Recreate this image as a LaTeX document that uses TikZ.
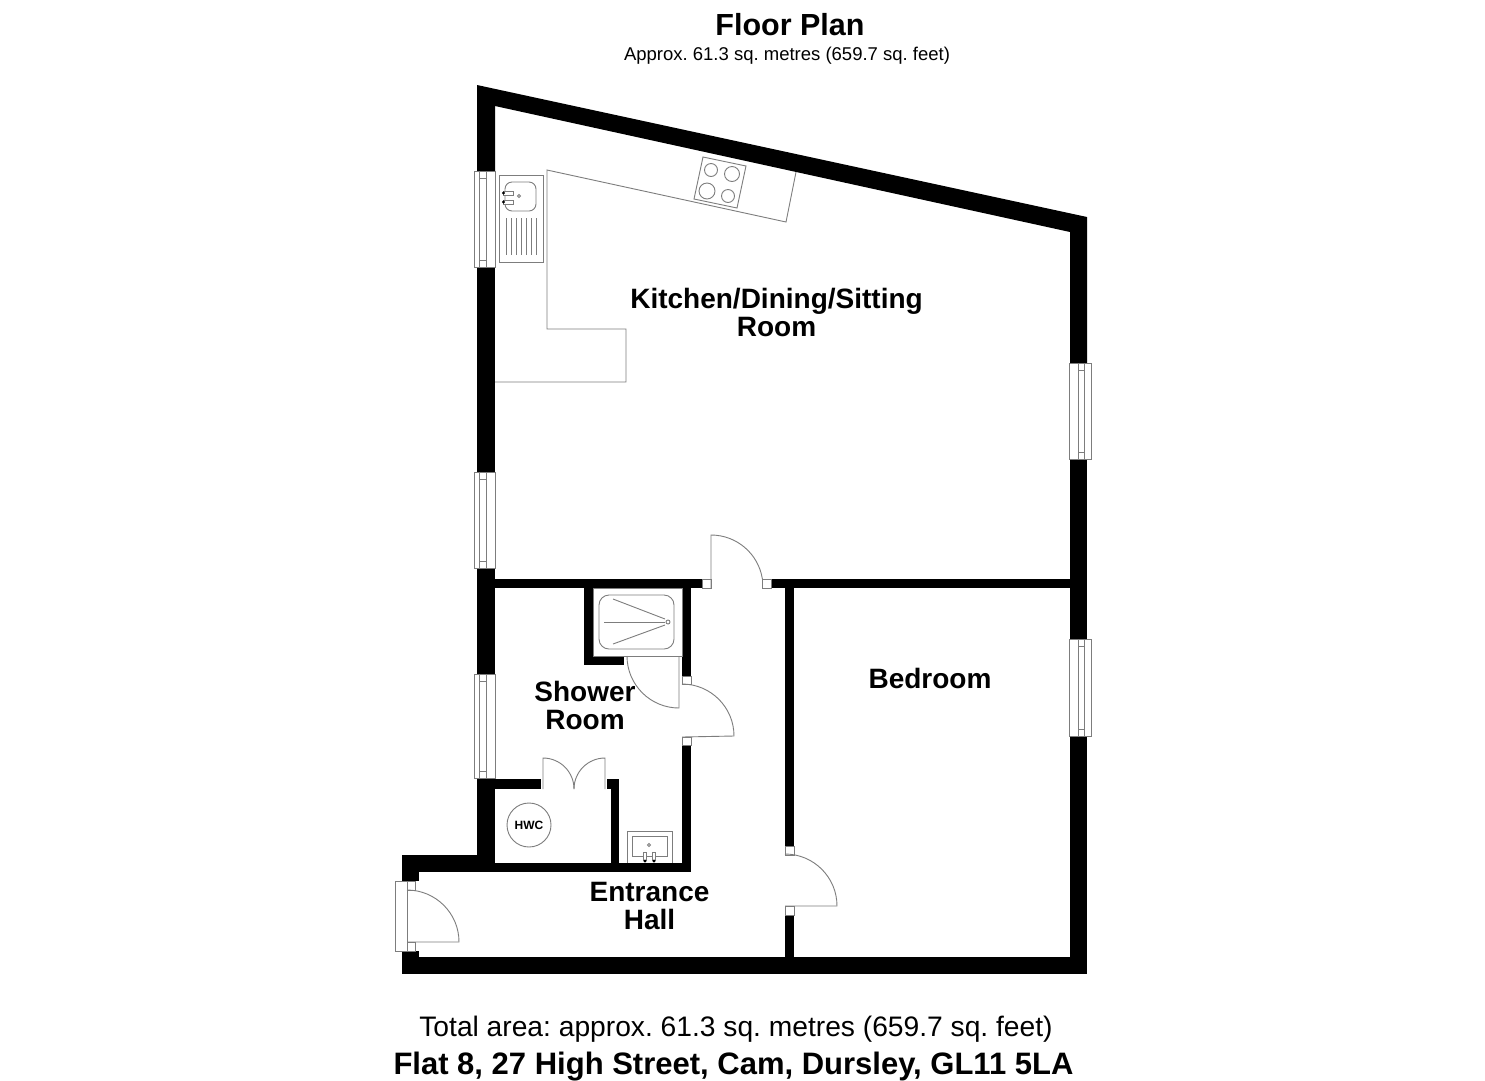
\documentclass[tikz,border=0pt]{standalone}
\usepackage{fontspec}
\setmainfont{Liberation Sans}
\frenchspacing
\usetikzlibrary{positioning}
\definecolor{fittinggrey}{RGB}{125,125,125}
\tikzset{
    wall/.style={fill=black, draw=none},
    fitting/.style={draw=fittinggrey, line width=0.9pt, fill=none},
    windowframe/.style={draw=fittinggrey, line width=0.9pt, fill=white},
    roomlabel/.style={font=\fontsize{28}{28}\selectfont\bfseries, align=center, inner sep=0pt},
}
\begin{document}
\begin{tikzpicture}[x=1pt,y=-1pt]
    \useasboundingbox (0,0) rectangle (1485,1080);
    \fill[white] (0,0) rectangle (1485,1080);
    % Outer walls
    \fill[wall] (477,85) -- (1087,217) -- (1087,363) -- (1070,363) -- (1070,232) -- (495,106) -- (495,171) -- (477,171) -- cycle;
    \foreach \xa/\ya/\xb/\yb in {477/267/495/472, 477/568/495/674, 477/778/495/863, 1070/459/1087/639, 1070/736/1087/974,
        402/957/1087/974, 402/855/495/872, 402/855/419/881, 402/951/419/957} {
        \fill[wall] (\xa,\ya) rectangle (\xb,\yb);
    }
    % Inner walls
    \foreach \xa/\ya/\xb/\yb in {495/579/702/588, 771/579/1070/588, 785/588/794/846, 785/915/794/957,
        584/588/593/665, 584/656/624/665, 682/588/691/676, 682/745/691/872, 495/863/691/872,
        495/779/541/789, 607/779/619/789, 611/789/619/863} {
        \fill[wall] (\xa,\ya) rectangle (\xb,\yb);
    }
    % Windows
    \foreach \ya/\yb in {171/267, 472/568, 674/778} {
        \draw[windowframe] (474,\ya) rectangle (495,\yb);
        \draw[fitting] (479,\ya) -- (479,\yb) (486,\ya) -- (486,\yb);
        \draw[fitting] (479,\ya+7) -- (486,\ya+7) (479,\yb-7) -- (486,\yb-7);
    }
    \foreach \ya/\yb in {363/459, 639/736} {
        \draw[windowframe] (1069,\ya) rectangle (1091,\yb);
        \draw[fitting] (1078,\ya) -- (1078,\yb) (1084,\ya) -- (1084,\yb);
        \draw[fitting] (1078,\ya+7) -- (1084,\ya+7) (1078,\yb-7) -- (1084,\yb-7);
    }
    % Door jambs
    \foreach \xa/\ya/\xb/\yb in {702/579/711/588, 762/579/771/588, 785/846/794/855, 785/906/794/915,
        682/676/691/684, 682/737/691/745, 407/881/415/890, 407/942/415/951} {
        \draw[fitting] (\xa,\ya) rectangle (\xb,\yb);
    }
    % Doors
    \draw[fitting] (711,588) -- (711,535) arc[start angle=90, end angle=9, radius=52pt];
    \draw[fitting] (785,854) arc[start angle=90, end angle=0, radius=52pt] -- (785,906);
    \draw[fitting] (682,684) arc[start angle=90, end angle=0, radius=52pt] -- (682,737);
    \draw[fitting] (679,656) -- (679,708) arc[start angle=270, end angle=180, radius=52pt];
    \draw[fitting] (407,890) arc[start angle=90, end angle=0, radius=52pt] -- (407,942);
    \draw[fitting] (395,881) rectangle (407,951);
    \draw[fitting] (543,789) -- (543,758) arc[start angle=90, end angle=0, radius=31pt];
    \draw[fitting] (605,789) -- (605,758) arc[start angle=90, end angle=180, radius=31pt];
    % Kitchen units
    \draw[fitting] (796,172) -- (786,222) -- (547,170) -- (547,329) -- (626,329) -- (626,382) -- (495,382);
    \draw[fitting] (703,157) -- (746,166) -- (737,208) -- (694,199) -- cycle;
    \foreach \cx/\cy/\cr in {711/170/6.5, 732/174/7.5, 707/191/8, 728/196/6.5} {
        \draw[fitting] (\cx,\cy) circle[radius=\cr pt];
    }
    % Sink
    \draw[fitting] (499,175) rectangle (543,262);
    \draw[fitting, rounded corners=7pt] (505,182) rectangle (536,211);
    \draw[fitting] (519,196) circle[radius=1.5pt];
    \foreach \ya in {191,200} {
        \draw[fitting, fill=white] (503,\ya) rectangle (513,\ya+4);
        \fill[black] (503.5,\ya+2) circle[radius=1.6pt];
    }
    \foreach \xa in {506,511,...,536} {
        \draw[fitting] (\xa,218) -- (\xa,255);
    }
    % Shower
    \draw[fitting] (593,588) rectangle (682,656);
    \draw[fitting, rounded corners=10pt] (599,595) rectangle (674,649);
    \draw[fitting] (613,599) -- (665,619);
    \draw[fitting] (604,622) -- (665,622);
    \draw[fitting] (613,644) -- (665,625);
    \draw[fitting] (668,622) circle[radius=2pt];
    % Basin
    \draw[fitting] (627,863) -- (627,831) -- (672,831) -- (672,863);
    \draw[fitting] (632,836) rectangle (667,856);
    \draw[fitting] (649,845) circle[radius=1.5pt];
    \foreach \xa in {645,654} {
        \draw[fitting, fill=white] (\xa-1.7,852) rectangle (\xa+1.7,860);
        \fill[black] (\xa,861) circle[radius=1.6pt];
    }
    % Cylinder
    \node[draw=fittinggrey, line width=0.9pt, circle, minimum size=44pt, inner sep=0pt,
        font=\fontsize{12}{12}\selectfont\bfseries] (hwc) at (529,825) {HWC};
    % Labels
    \node[roomlabel] (kitchen) at (776.5,312) {Kitchen/Dining/Sitting\\Room};
    \node[roomlabel] (shower) at (585,705) {Shower\\Room};
    \node[roomlabel] (bedroom) at (930,678) {Bedroom};
    \node[roomlabel] (hall) at (649.5,906) {Entrance\\Hall};
    % Titles
    \node[font=\fontsize{30.5}{32}\selectfont\bfseries, inner sep=0pt] (title) at (790,25) {Floor Plan};
    \node[font=\fontsize{18.5}{20}\selectfont, inner sep=0pt] (subtitle) at (787,56) {Approx. 61.3 sq. metres (659.7 sq. feet)};
    \node[font=\fontsize{28.2}{30}\selectfont, inner sep=0pt] (total) at (736,1029) {Total area: approx. 61.3 sq. metres (659.7 sq. feet)};
    \node[font=\fontsize{31}{32}\selectfont\bfseries, inner sep=0pt] (address) at (733.5,1067) {Flat 8, 27 High Street, Cam, Dursley, GL11 5LA};
\end{tikzpicture}
\end{document}
